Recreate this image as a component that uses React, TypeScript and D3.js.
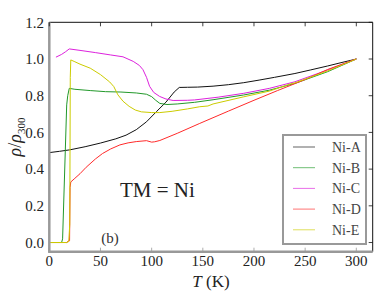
import * as d3 from "d3";

type Pt = [number, number];

// temperature (K), rho/rho300
const niA: Pt[] = [
  [0, 0.49], [10, 0.497], [20, 0.505], [35, 0.522], [50, 0.542], [65, 0.565],
  [75, 0.585], [85, 0.615], [95, 0.658], [105, 0.715], [114, 0.765], [122, 0.82],
  [127, 0.845], [135, 0.846], [145, 0.847], [160, 0.852], [175, 0.86], [190, 0.871],
  [205, 0.885], [220, 0.9], [240, 0.921], [255, 0.94], [272, 0.962], [285, 0.98], [300, 1.0],
];
const niB: Pt[] = [
  [0, 0], [12, 0], [13, 0.02], [17, 0.75], [18, 0.8], [19.5, 0.84], [25, 0.835],
  [40, 0.828], [55, 0.822], [70, 0.82], [85, 0.815], [95, 0.808], [100, 0.795],
  [104, 0.775], [108, 0.758], [115, 0.752], [125, 0.755], [142, 0.764], [160, 0.778],
  [190, 0.804], [215, 0.83], [240, 0.867], [272, 0.931], [300, 1.0],
];
const niC: Pt[] = [
  [6.5, 1.01], [12, 1.025], [16, 1.04], [19.5, 1.055], [30, 1.047], [45, 1.035],
  [60, 1.022], [72, 1.012], [82, 0.987], [88, 0.965], [91.5, 0.942], [95, 0.9],
  [98, 0.851], [102, 0.818], [107.8, 0.796], [114, 0.782], [121, 0.774], [135, 0.775],
  [142, 0.777], [165, 0.792], [190, 0.813], [215, 0.84], [240, 0.876], [272, 0.94], [300, 1.0],
];
const niD: Pt[] = [
  [0, 0], [17, 0], [18.5, 0.008], [19.8, 0.01], [20.3, 0.3], [21, 0.33], [25, 0.35],
  [30, 0.375], [36, 0.41], [45, 0.455], [52, 0.485], [60, 0.51], [69, 0.532],
  [77, 0.543], [85, 0.55], [95, 0.555], [100, 0.547], [103, 0.549], [108, 0.556],
  [125, 0.595], [147, 0.649], [175, 0.716], [200, 0.775], [223, 0.828], [250, 0.888],
  [272, 0.943], [300, 1.0],
];
const niE: Pt[] = [
  [0, 0], [17, 0], [19, 0.005], [20, 0.1], [20.5, 0.9], [21, 0.995], [25, 0.985],
  [30, 0.972], [40, 0.95], [50, 0.915], [59, 0.875], [63, 0.85], [67, 0.805],
  [72, 0.77], [78, 0.742], [84, 0.722], [90, 0.712], [100, 0.708], [108, 0.708],
  [120, 0.715], [135, 0.728], [147, 0.74], [155, 0.744], [160, 0.755], [190, 0.794],
  [215, 0.825], [236, 0.865], [240, 0.87], [272, 0.935], [300, 1.0],
];

const seriesNames = ["Ni-A", "Ni-B", "Ni-C", "Ni-D", "Ni-E"];
const seriesData = [niA, niB, niC, niD, niE];
const colors = ["#111111", "#22992a", "#dd22dd", "#ff2a2a", "#cccc00"];

const xTicks = [0, 50, 100, 150, 200, 250, 300];
const yTicks = [0, 0.2, 0.4, 0.6, 0.8, 1.0, 1.2];

const W = 392;
const H = 294;
const left = 49.3, right = 372.7, top = 22.3, bottom = 251.7;
const FONT = "Liberation Serif";

export default function App() {
  const x = d3.scaleLinear().domain([0, 316]).range([left, right]);
  const y = d3.scaleLinear().domain([-0.05, 1.2]).range([bottom, top]);
  const line = d3
    .line<Pt>()
    .x((d) => x(d[0]))
    .y((d) => y(d[1]));

  const legX = 283, legY = 135, legW = 83, legH = 109, rowH = 20.7;

  return (
    <div style={{ position: "absolute", left: 0, top: 0, fontFamily: FONT }}>
      <svg width={W} height={H} style={{ display: "block", background: "#fff" }}>
        <style>{`text { font-family: "Liberation Serif"; }`}</style>
        {/* curves */}
        {seriesData.map((s, i) => (
          <path key={i} d={line(s) ?? ""} fill="none" stroke={colors[i]} strokeWidth={1} />
        ))}

        {/* spines */}
        <line x1={left} x2={right} y1={top} y2={top} stroke="#111" strokeWidth={1} />
        <line x1={right} x2={right} y1={top} y2={bottom} stroke="#111" strokeWidth={1} />
        <line x1={left} x2={left} y1={top} y2={bottom + 1} stroke="#999" strokeWidth={2.5} />
        <line x1={left - 1} x2={right} y1={bottom} y2={bottom} stroke="#999" strokeWidth={2.5} />

        {/* x ticks */}
        {xTicks.map((t) => (
          <g key={"x" + t}>
            <line x1={x(t)} x2={x(t)} y1={top} y2={top + 4} stroke="#111" strokeWidth={0.8} />
            <line x1={x(t)} x2={x(t)} y1={bottom} y2={bottom - 4} stroke="#999" strokeWidth={0.8} />
            <text x={x(t)} y={266} textAnchor="middle" fontSize={15} fill="#222" fontFamily={FONT}>
              {t}
            </text>
          </g>
        ))}

        {/* y ticks */}
        {yTicks.map((t) => (
          <g key={"y" + t}>
            <line x1={right} x2={right - 4} y1={y(t)} y2={y(t)} stroke="#111" strokeWidth={0.8} />
            <text x={44} y={y(t)} dy="0.35em" textAnchor="end" fontSize={15} fill="#222" fontFamily={FONT}>
              {t.toFixed(1)}
            </text>
          </g>
        ))}

        {/* axis labels */}
        <text x={(left + right) / 2} y={287} textAnchor="middle" fontSize={17} fill="#222" fontFamily={FONT}>
          <tspan fontStyle="italic">T</tspan> (K)
        </text>
        <text
          transform={`translate(21,${(top + bottom) / 2}) rotate(-90)`}
          textAnchor="middle"
          fontSize={18}
          fill="#222"
          fontFamily={FONT}
        >
          <tspan fontStyle="italic">ρ</tspan>/<tspan fontStyle="italic">ρ</tspan>
          <tspan fontSize={11} dy={4}>300</tspan>
        </text>

        {/* annotations */}
        <text x={120} y={197} fontSize={21} fill="#222" fontFamily={FONT}>TM = Ni</text>
        <text x={110} y={243} textAnchor="middle" fontSize={15} fill="#333" fontFamily={FONT}>(b)</text>

        {/* legend */}
        <rect x={legX} y={legY} width={legW} height={legH} fill="#fff" stroke="#999" strokeWidth={2} />
        {seriesNames.map((n, i) => {
          const yy = legY + 12 + i * rowH;
          return (
            <g key={n}>
              <line x1={293} x2={315} y1={yy} y2={yy} stroke={colors[i]} strokeOpacity={0.65} strokeWidth={1} />
              <text x={332} y={yy} dy="0.35em" fontSize={14} fill="#444" fontFamily={FONT}>
                {n}
              </text>
            </g>
          );
        })}
      </svg>
    </div>
  );
}
